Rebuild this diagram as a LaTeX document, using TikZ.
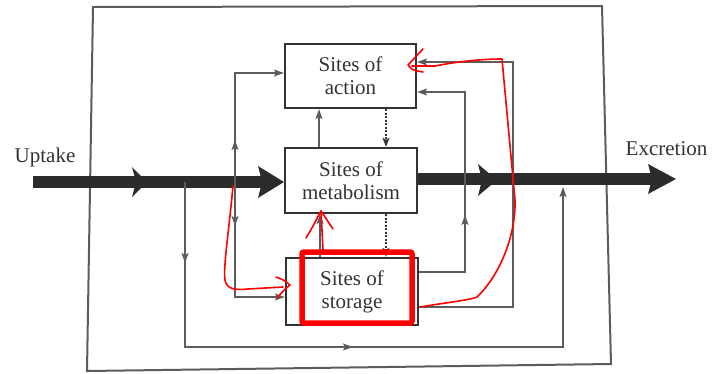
\documentclass[tikz,border=0pt]{standalone}
\usepackage{fontspec}
\setmainfont{Liberation Serif}
\usetikzlibrary{arrows.meta,decorations.markings}

\definecolor{ink}{HTML}{333333}
\definecolor{thin}{HTML}{5C5C5C}
\definecolor{barcol}{HTML}{2C2C2C}
\definecolor{annot}{HTML}{FF0000}

% filled head on the main flow: tip x, tip y, length, half width
\newcommand\flowhead[4]{%
  \fill[barcol] ({#1-#3},{#2-#4}) -- (#1,#2) -- ({#1-#3},{#2+#4}) -- ({#1-#3+4},#2) -- cycle;}

\begin{document}
\begin{tikzpicture}[x=1pt,y=-1pt,
  site/.style={draw=ink, line width=2.2pt, minimum width=131pt, minimum height=64pt,
    inner sep=0pt, align=center, text=ink, font=\fontsize{21}{23}\selectfont},
  label/.style={text=ink, font=\fontsize{21}{23}\selectfont, inner sep=0pt},
  flow/.style={draw=thin, line width=1.2pt},
  tip/.style={-{Stealth[length=10pt,width=7pt,inset=2pt]}},
  dots/.style={draw=ink, line width=1.7pt, dash pattern=on 2pt off 1.5pt},
  dottip/.style={-{Stealth[length=9pt,width=7pt,inset=2pt]}},
  bigbar/.style={draw=barcol, line width=12pt},
  redpen/.style={draw=annot, line width=1.6pt, line cap=round, line join=round},
  midmark/.style={postaction={decorate}, decoration={markings,
    mark=at position #1 with {\arrow{Stealth[length=10pt,width=7pt,inset=2pt]}}}}
]
\useasboundingbox (0,0) rectangle (712,373);

% outer frame
\draw[draw=thin, line width=2pt, line join=miter] (93,7) -- (602,6) -- (611,364) -- (87,371) -- cycle;

% compartments
\node[site] (act) at (350.5,76) {Sites of\\action};
\node[site, minimum height=65pt, minimum width=132pt] (met) at (351,180.5) {Sites of\\metabolism};
\node[site, minimum height=67pt, minimum width=132pt] (sto) at (352,291.5) {Sites of\\storage};

% outside labels
\node[label, anchor=base] (uptake) at (45,162) {Uptake};
\node[label, anchor=base] (excr) at (666.5,155) {Excretion};

% main flow
\coordinate (u0) at (33,182);
\coordinate (u1) at (262,182);
\coordinate (e1) at (652,179);
\draw[bigbar] (u0) -- (u1);
\draw[bigbar] (met.east |- e1) -- (e1);
\flowhead{147}{182}{15}{15}
\flowhead{284}{182}{26}{16}
\flowhead{497}{180}{19}{16}
\flowhead{676}{179}{28}{15}

% branch points on the flow
\coordinate (j0) at (185,182);
\coordinate (j1) at (235,182);
\coordinate (j3) at (563,187);
\coordinate (loopbase) at (0,347);
\coordinate (r1) at (465,150);
\coordinate (r2) at (513,150);
\coordinate (v1) at (319,0);
\coordinate (v1b) at (320,0);
\coordinate (v2) at (386,0);

% thin connectors
\draw[flow, tip, midmark=42pt] (j1) |- ([yshift=3pt]act.west);
\draw[flow, tip, midmark=44pt] (j1) |- ([yshift=-5.5pt]sto.west);
\draw[flow, tip, postaction={decorate}, decoration={markings,
    mark=at position 81pt with {\arrow{Stealth[length=10pt,width=7pt,inset=2pt]}},
    mark=at position 333pt with {\arrow{Stealth[length=10pt,width=7pt,inset=2pt]}}}]
  (j0) -- (j0 |- loopbase) -- (j3 |- loopbase) -- (j3);
\draw[flow, tip, midmark=103pt] ([yshift=19.5pt]sto.east) -| (r1) |- ([yshift=-16pt]act.east);
\draw[flow, tip] ([yshift=-15.5pt]sto.east) -| (r2) |- ([yshift=14pt]act.east);

% links between compartments
\draw[flow, tip] (met.north -| v1) -- (act.south -| v1);
\draw[dots, dottip] (act.south -| v2) -- (met.north -| v2);
\draw[dots, dottip] (met.south -| v2) -- (sto.north -| v2);
\draw[flow, tip] (sto.north -| v1b) -- (met.south -| v1b);

% red pen marks
\draw[draw=annot, line width=5.5pt, rounded corners=2pt] (302,252) rectangle (412,323);
\coordinate (p0) at (233,186);
\coordinate (p1) at (290,285);
\draw[redpen] (p0) .. controls (229,230) and (223,268) .. (225,280)
  .. controls (227,290) and (236,290) .. (248,289) -- (283,287);
\draw[redpen] (276,277) .. controls (284,280) .. (p1) .. controls (284,290) .. (277,298);
\coordinate (q0) at (323,250);
\coordinate (q1) at (321,211);
\draw[redpen] (q0) -- (q1);
\draw[redpen] (306,238) .. controls (312,228) .. (q1) .. controls (327,220) .. (333,229);
\coordinate (s0) at (420,307);
\coordinate (s1) at (408,65);
\draw[redpen] (s0) .. controls (450,302) and (470,300) .. (477,297)
  .. controls (500,275) and (516,235) .. (515,200) -- (502,59)
  .. controls (480,59) and (455,62) .. (435,66) -- (412,66);
\draw[redpen] (423,49) -- (s1) .. controls (412,70) .. (423,72);
\end{tikzpicture}
\end{document}
